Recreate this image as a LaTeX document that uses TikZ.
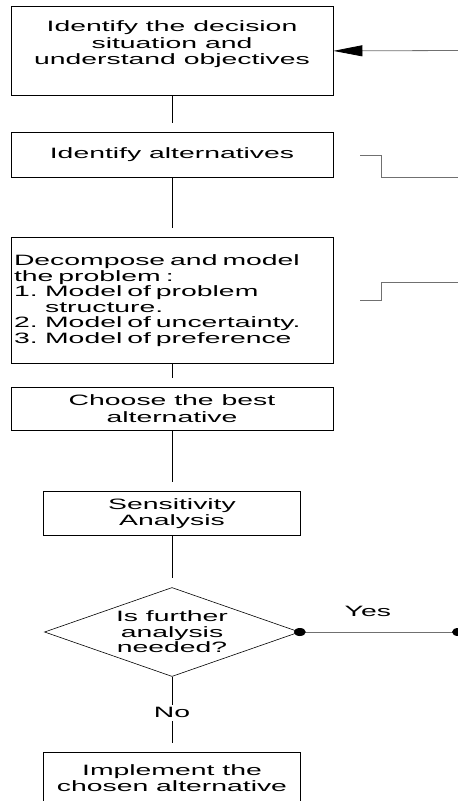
\documentclass[tikz,border=0pt]{standalone}
\usepackage{fontspec}
\setmainfont{Liberation Sans}[FakeStretch=1.89]
\usetikzlibrary{arrows.meta, positioning, shapes.geometric}
\definecolor{flowline}{HTML}{707070}
\newcommand{\boxfont}[1]{\fontsize{15}{#1}\selectfont\spaceskip=7.9pt plus 2pt minus 1pt\relax}

\begin{document}
\begin{tikzpicture}[
    x=1pt, y=-1pt,
    font=\boxfont{15.5},
    every node/.style={align=center},
    stepbox/.style={draw=black, line width=0.8pt, inner sep=0pt, anchor=north},
    widebox/.style={stepbox, minimum width=322pt},
    narrowbox/.style={stepbox, minimum width=257pt},
    decision/.style={diamond, draw=black, line width=0.6pt, aspect=2.87, inner sep=0pt, minimum width=255pt, minimum height=89pt},
    link/.style={draw=black, line width=0.8pt, shorten >=9pt},
    feedback/.style={draw=flowline, line width=0.8pt},
]
\useasboundingbox (0,0) rectangle (458,801);

% ================= MAIN FLOW =================
\node[widebox, minimum height=89pt, font=\boxfont{16.5}] (ident) at (172,6) {Identify the decision\\situation and\\understand objectives\\\mbox{}};
\node[widebox, minimum height=45pt] (alts) at (172,132) {Identify alternatives};
\node[widebox, minimum height=126pt, text width=316pt, align=left] (decomp) at (172,237) {Decompose and model\\the problem :\\1. Model of problem\\\hphantom{1. }structure.\\2. Model of uncertainty.\\3. Model of preference};
\node[widebox, minimum height=43pt, font=\boxfont{17}] (choose) at (172,387) {Choose the best\\alternative};
\node[narrowbox, minimum height=44pt] (sens) at (172,491) {Sensitivity\\Analysis};
\node[decision] (more) at (172,632) {Is further\\analysis\\needed?};
\node[narrowbox, minimum height=51pt] (impl) at (172,752) {Implement the\\chosen alternative};

\draw[link] (ident.south) -- (alts.north);
\draw[link] (alts.south) -- (decomp.north);
\draw[link] (decomp.south) -- (choose.north);
\draw[link] (choose.south) -- (sens.north);
\draw[link] (sens.south) -- (more.north);
\draw[link] (more.south) -- node[fill=white, inner sep=3pt, pos=0.48] {No} (impl.north);

% ================= RIGHT SIDE (loop back) =================
\coordinate (loopin) at (458,50.5);
\coordinate (altsedge) at (458,177);
\coordinate (decompedge) at (458,282);
\coordinate (loopend) at (458,632);

\draw[feedback, -{Triangle[length=29pt, width=11pt, color=black]}] (loopin) -- (ident.east);
\draw[feedback, shorten <=27pt] (alts.east) -- ++(48,0) |- (altsedge);
\draw[feedback, shorten <=27pt] (decomp.east) -- ++(48,0) |- (decompedge);
\draw[feedback] (more.east) -- node[above=12pt, pos=0.43] {Yes} (loopend);
\fill (more.east) ellipse [x radius=6pt, y radius=4pt];
\fill (loopend) ellipse [x radius=6pt, y radius=4pt];

\end{tikzpicture}
\end{document}
